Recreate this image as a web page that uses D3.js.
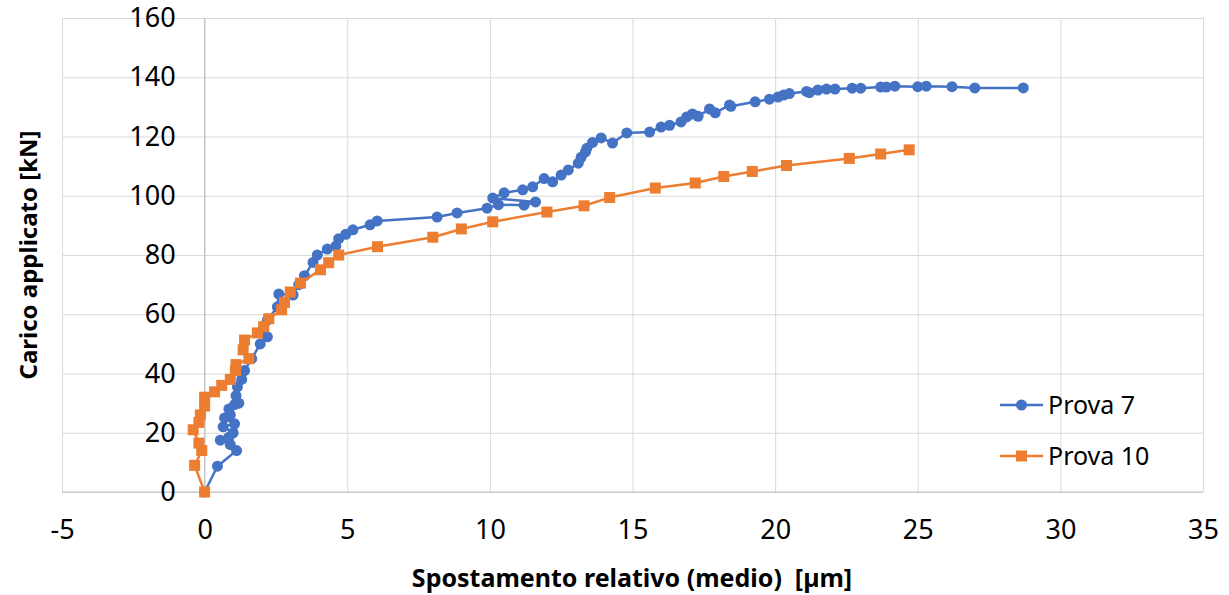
<!DOCTYPE html>
<html>
<head>
<meta charset="utf-8">
<script src="https://cdn.jsdelivr.net/npm/d3@7"></script>
<style>
  body { margin: 0; background: #fff; }
  text { font-family: "Noto Sans", "Open Sans", sans-serif; fill: #000; }
</style>
</head>
<body>
<div id="canvas"></div>
<script>
// chart size
const width = 1229;
const height = 595;

// data: [spostamento µm, carico kN]
const prova7 = [
  [0, 0], [0.45, 8.7], [1.12, 14], [0.9, 16], [0.55, 17.5], [0.85, 18.5], [1.0, 20],
  [0.65, 22], [1.05, 23], [0.7, 25], [0.9, 26], [0.85, 28], [1.05, 29.5], [1.2, 30],
  [1.1, 32.5], [1.15, 35.5], [1.3, 38], [1.4, 41], [1.65, 45], [1.95, 50], [2.2, 52.4],
  [2.05, 55], [2.2, 58], [2.55, 62.5], [2.6, 66.8], [3.1, 66.5], [3.3, 70], [3.5, 73],
  [3.8, 77.5], [3.95, 80], [4.3, 82], [4.6, 83], [4.7, 85.5], [4.95, 87], [5.2, 88.5],
  [5.8, 90.2], [6.05, 91.5], [8.15, 92.8], [8.85, 94.2], [9.9, 95.8], [10.3, 97],
  [11.2, 96.8], [11.6, 97.9], [10.1, 99.2], [10.5, 101], [11.15, 102], [11.5, 103],
  [11.9, 105.8], [12.2, 104.7], [12.5, 107], [12.75, 108.7], [13.1, 111], [13.2, 113],
  [13.35, 114.8], [13.4, 116], [13.6, 118], [13.9, 119.5], [14.3, 117.8], [14.8, 121.2],
  [15.6, 121.5], [16.0, 123.2], [16.3, 123.8], [16.7, 124.9], [16.9, 126.6], [17.1, 127.6],
  [17.3, 126.8], [17.7, 129.3], [17.9, 128], [18.4, 130.6], [18.45, 130.2], [19.3, 131.7],
  [19.8, 132.6], [20.1, 133.3], [20.3, 134], [20.5, 134.5], [21.1, 135.2], [21.2, 134.8],
  [21.5, 135.7], [21.8, 136], [22.1, 136], [22.7, 136.3], [23, 136.3], [23.7, 136.7],
  [23.9, 136.7], [24.2, 137], [25, 136.8], [25.3, 137], [26.2, 136.8], [27, 136.4],
  [28.7, 136.4]
];

const prova10 = [
  [0, 0], [-0.35, 9], [-0.1, 14], [-0.2, 16.5], [-0.4, 21], [-0.2, 23.5], [-0.15, 26],
  [0, 29], [0, 32], [0.35, 33.8], [0.6, 36], [0.9, 38], [1.08, 41], [1.1, 43], [1.55, 45],
  [1.35, 48], [1.4, 51.3], [1.85, 53.7], [2.07, 55.8], [2.25, 58.5], [2.7, 61.5], [2.8, 64],
  [3.0, 67.5], [3.36, 70.5], [4.06, 75], [4.35, 77.4], [4.7, 80], [6.06, 82.8], [8.0, 86],
  [9.0, 88.8], [10.1, 91.2], [12.0, 94.5], [13.3, 96.6], [14.2, 99.4], [15.8, 102.6],
  [17.2, 104.3], [18.2, 106.5], [19.2, 108.2], [20.4, 110.2], [22.6, 112.6], [23.7, 114.1],
  [24.7, 115.5]
];

const seriesNames = ['Prova 7', 'Prova 10'];
const xTicks = [-5, 0, 5, 10, 15, 20, 25, 30, 35];
const yTicks = [0, 20, 40, 60, 80, 100, 120, 140, 160];

const blue = '#4472C4';
const orange = '#ED7D31';

const svg = d3.select('#canvas')
  .append('svg')
  .attr('width', width)
  .attr('height', height);

// plot area
const margin = { top: 18, right: 26, bottom: 103, left: 62 };
const innerWidth = width - margin.left - margin.right;
const innerHeight = height - margin.top - margin.bottom;

const xScale = d3.scaleLinear().domain([-5, 35]).range([0, innerWidth]);
const yScale = d3.scaleLinear().domain([0, 160]).range([innerHeight, 0]);

const g = svg.append('g')
  .attr('transform', `translate(${margin.left},${margin.top})`);

// gridlines
g.append('g')
  .call(d3.axisLeft(yScale).tickValues(yTicks).tickSize(-innerWidth).tickFormat(''))
  .call(a => a.select('.domain').remove())
  .call(a => a.selectAll('line').attr('stroke', '#d9d9d9'));

g.append('g')
  .attr('transform', `translate(0,${innerHeight})`)
  .call(d3.axisBottom(xScale).tickValues(xTicks).tickSize(-innerHeight).tickFormat(''))
  .call(a => a.select('.domain').remove())
  .call(a => a.selectAll('line').attr('stroke', '#d9d9d9'));

// vertical axis at x = 0 and horizontal axis at y = 0
g.append('line')
  .attr('x1', xScale(0)).attr('x2', xScale(0))
  .attr('y1', 0).attr('y2', innerHeight)
  .attr('stroke', '#bfbfbf');
g.append('line')
  .attr('x1', 0).attr('x2', innerWidth)
  .attr('y1', innerHeight).attr('y2', innerHeight)
  .attr('stroke', '#bfbfbf');

// y tick labels sit next to the x = 0 axis
const yAxis = g.append('g')
  .attr('transform', `translate(${xScale(0)},0)`)
  .call(d3.axisLeft(yScale).tickValues(yTicks).tickSize(0).tickPadding(29).tickFormat(d => String(d)))
  .call(a => a.select('.domain').remove());
yAxis.selectAll('text')
  .style('font-size', '27px')
  .attr('font-family', null);

// x tick labels below the plot (plain hyphen for -5)
const xAxis = g.append('g')
  .attr('transform', `translate(0,${innerHeight})`)
  .call(d3.axisBottom(xScale).tickValues(xTicks).tickSize(0).tickPadding(28).tickFormat(d => String(d)))
  .call(a => a.select('.domain').remove());
xAxis.selectAll('text')
  .style('font-size', '27px')
  .attr('font-family', null);

// lines and markers
const line = d3.line()
  .x(d => xScale(d[0]))
  .y(d => yScale(d[1]));

g.append('path')
  .datum(prova7)
  .attr('fill', 'none')
  .attr('stroke', blue)
  .attr('stroke-width', 2.5)
  .attr('stroke-linejoin', 'round')
  .attr('d', line);

g.selectAll('.dot7')
  .data(prova7)
  .enter().append('circle')
    .attr('class', 'dot7')
    .attr('cx', d => xScale(d[0]))
    .attr('cy', d => yScale(d[1]))
    .attr('r', 5.5)
    .attr('fill', blue);

g.append('path')
  .datum(prova10)
  .attr('fill', 'none')
  .attr('stroke', orange)
  .attr('stroke-width', 2.5)
  .attr('stroke-linejoin', 'round')
  .attr('d', line);

g.selectAll('.sq10')
  .data(prova10)
  .enter().append('rect')
    .attr('class', 'sq10')
    .attr('x', d => xScale(d[0]) - 5.5)
    .attr('y', d => yScale(d[1]) - 5.5)
    .attr('width', 11)
    .attr('height', 11)
    .attr('fill', orange);

// axis titles
svg.append('text')
  .attr('transform', `translate(37,${margin.top + 237}) rotate(-90)`)
  .attr('text-anchor', 'middle')
  .style('font-size', '24px')
  .style('font-weight', 'bold')
  .text('Carico applicato [kN]');

svg.append('text')
  .attr('x', 632)
  .attr('y', 587)
  .attr('text-anchor', 'middle')
  .style('font-size', '25px')
  .style('font-weight', 'bold')
  .style('white-space', 'pre')
  .text('Spostamento relativo (medio)  [\u00b5m]');

// legend
const legend = svg.append('g').attr('transform', 'translate(1000,405)');
const items = legend.selectAll('g')
  .data(seriesNames)
  .enter().append('g')
    .attr('transform', (d, i) => `translate(0,${i * 51})`);

items.append('line')
  .attr('x1', 0).attr('x2', 43)
  .attr('stroke', (d, i) => i === 0 ? blue : orange)
  .attr('stroke-width', 2.5);

items.filter((d, i) => i === 0).append('circle')
  .attr('cx', 21.5).attr('r', 5.5).attr('fill', blue);
items.filter((d, i) => i === 1).append('rect')
  .attr('x', 16).attr('y', -5.5).attr('width', 11).attr('height', 11).attr('fill', orange);

items.append('text')
  .attr('x', 48)
  .attr('dy', '0.35em')
  .style('font-size', '25px')
  .text(d => d);
</script>
</body>
</html>
